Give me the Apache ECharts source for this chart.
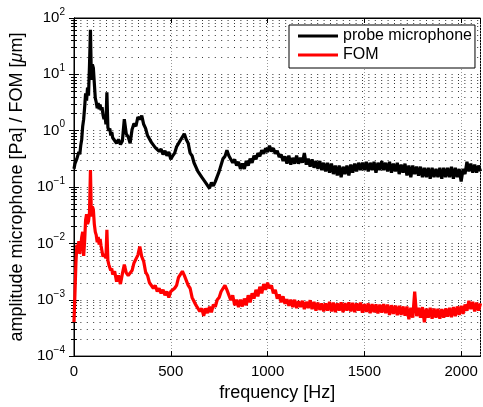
<!DOCTYPE html>
<html>
<head>
<meta charset="utf-8">
<script src="https://cdn.jsdelivr.net/npm/echarts@6/dist/echarts.min.js"></script>
<style>html,body{margin:0;padding:0;background:#fff}#c{width:483px;height:407px}</style>
</head>
<body>
<div id="c"></div>
<script>
const freqHz = [0,5,10,15,20,25,30,35,40,45,50,55,60,65,70,75,80,85,90,95,100,105,110,115,120,125,130,135,140,145,150,155,160,165,170,175,180,185,190,195,200,
210,220,230,240,250,260,270,280,290,300,
310,320,330,340,350,360,370,380,390,400,
410,420,430,440,450,460,470,480,490,500,
510,520,530,540,550,560,570,580,590,600,
610,620,630,640,650,660,670,680,690,700,
710,720,730,740,750,760,770,780,790,800,
810,820,830,840,850,860,870,880,890,900,
910,920,930,940,950,960,970,980,990,1000,
1010,1020,1030,1040,1050,1060,1070,1080,1090,1100,
1110,1120,1130,1140,1150,1160,1170,1180,1190,1200,
1210,1220,1230,1240,1250,1260,1270,1280,1290,1300,
1310,1320,1330,1340,1350,1360,1370,1380,1390,1400,
1410,1420,1430,1440,1450,1460,1470,1480,1490,1500,
1510,1520,1530,1540,1550,1560,1570,1580,1590,1600,
1610,1620,1630,1640,1650,1660,1670,1680,1690,1700,
1710,1720,1730,1740,1750,1760,1770,1780,1790,1800,
1810,1820,1830,1840,1850,1860,1870,1880,1890,1900,
1910,1920,1930,1940,1950,1960,1970,1980,1990,2000,
2010,2020,2030,2040,2050,2060,2070,2080,2090,2100];

const micPa = [0.21,0.26,0.24,0.32,0.3,0.42,0.38,0.55,0.7,1.2,1.6,2.6,4.6,3.4,5.8,4.2,14,62,8,15,13,7,3.8,3.2,2.5,3.1,2.4,2.9,2.3,2.6,1.9,1.6,1.9,1.3,4.8,1.15,1.0,1.1,0.82,0.95,0.75,
0.8,0.6,0.7,0.57,0.66,1.6,0.88,0.78,0.6,1.05,
1.35,1.2,1.75,1.6,1.85,1.3,1.1,0.82,0.8,0.62,
0.6,0.5,0.53,0.43,0.47,0.38,0.44,0.36,0.42,0.31,
0.36,0.4,0.52,0.5,0.68,0.72,0.88,0.7,0.6,0.4,
0.36,0.27,0.25,0.19,0.19,0.15,0.15,0.12,0.13,0.095,
0.12,0.105,0.125,0.13,0.19,0.2,0.32,0.35,0.45,0.36,
0.37,0.27,0.31,0.24,0.28,0.21,0.26,0.21,0.29,0.24,
0.32,0.27,0.36,0.31,0.4,0.35,0.45,0.39,0.49,0.42,
0.54,0.43,0.49,0.39,0.44,0.34,0.38,0.29,0.35,0.26,
0.36,0.25,0.33,0.26,0.36,0.26,0.33,0.27,0.4,0.25,
0.32,0.23,0.31,0.22,0.29,0.21,0.29,0.2,0.27,0.19,
0.27,0.18,0.26,0.17,0.24,0.16,0.24,0.15,0.23,0.17,
0.24,0.16,0.25,0.18,0.26,0.19,0.27,0.2,0.27,0.2,
0.28,0.19,0.27,0.2,0.28,0.18,0.27,0.2,0.29,0.2,
0.27,0.19,0.28,0.18,0.26,0.19,0.27,0.17,0.25,0.18,
0.26,0.16,0.24,0.15,0.24,0.17,0.23,0.16,0.23,0.15,
0.22,0.15,0.22,0.14,0.22,0.15,0.21,0.15,0.22,0.14,
0.22,0.15,0.22,0.15,0.23,0.14,0.22,0.15,0.21,0.125,
0.21,0.17,0.28,0.19,0.26,0.18,0.25,0.18,0.24,0.19];

const fomUm = [0.0004,0.0013,0.0045,0.0095,0.007,0.011,0.0065,0.009,0.013,0.016,0.006,0.011,0.026,0.033,0.022,0.025,0.035,0.2,0.03,0.045,0.04,0.022,0.016,0.014,0.0105,0.013,0.0095,0.012,0.009,0.0095,0.0058,0.0065,0.007,0.0055,0.0175,0.005,0.0042,0.0045,0.0033,0.0036,0.0028,
0.0032,0.0021,0.0027,0.0019,0.0029,0.0042,0.003,0.0027,0.0029,0.0033,
0.0045,0.0042,0.0062,0.0088,0.0058,0.0048,0.0031,0.0027,0.002,0.0021,
0.0016,0.0018,0.0014,0.0016,0.0013,0.0015,0.0012,0.0014,0.0011,0.0014,
0.0013,0.0016,0.0018,0.0025,0.0026,0.0032,0.0027,0.0025,0.0018,0.0016,
0.0011,0.0011,0.0008,0.00082,0.00062,0.0007,0.00052,0.0007,0.00058,0.00075,
0.0006,0.00082,0.00075,0.001,0.0011,0.0014,0.0015,0.0018,0.0015,0.0014,
0.00098,0.0012,0.0008,0.001,0.00074,0.001,0.00076,0.00105,0.0008,0.0012,
0.0009,0.0013,0.00105,0.0015,0.00115,0.0017,0.0013,0.0019,0.0015,0.002,
0.0016,0.0018,0.0013,0.0015,0.00105,0.00125,0.0009,0.00115,0.00085,0.00102,
0.00078,0.001,0.00074,0.001,0.00071,0.00094,0.00074,0.00096,0.00068,0.00092,
0.00071,0.00098,0.00068,0.00092,0.00064,0.00089,0.00066,0.00086,0.00062,0.00086,
0.00064,0.00092,0.00062,0.00089,0.0006,0.00086,0.00064,0.0009,0.0006,0.00087,
0.00064,0.0009,0.00062,0.00088,0.0006,0.00086,0.00064,0.00089,0.00059,0.00084,
0.00061,0.00086,0.00058,0.00084,0.0006,0.00083,0.00057,0.00082,0.00059,0.00084,
0.00058,0.00082,0.00054,0.0008,0.00056,0.00079,0.00053,0.00078,0.00054,0.00076,
0.00052,0.00076,0.00045,0.00072,0.00048,0.0014,0.00051,0.00072,0.00048,0.00074,
0.0004,0.0007,0.00048,0.00072,0.00046,0.0007,0.00048,0.00069,0.00046,0.00068,
0.00048,0.0007,0.0005,0.00072,0.00049,0.00074,0.00051,0.00076,0.00054,0.00078,
0.00056,0.00082,0.00064,0.00096,0.00068,0.00092,0.00062,0.00089,0.00064,0.00086];

const seriesNames = ['probe microphone', 'FOM'];
const xLabel = 'frequency [Hz]';

const FONT = '"Liberation Sans", Arial, Helvetica, sans-serif';
function pairs(xs, ys) { return xs.map((x, i) => [x, ys[i]]); }
function expLabel(v) {
  const e = Math.round(Math.log10(v));
  return '{b|10}{e|' + String(e).replace('-', '\u2212') + '}';
}
const dotted = { color: '#333', width: 1, type: [1, 5.4] };

const chart = echarts.init(document.getElementById('c'), null, { renderer: 'canvas' });
chart.setOption({
  animation: false,
  backgroundColor: '#fff',
  textStyle: { fontFamily: FONT },
  grid: { left: 73, right: 2.5, top: 18, bottom: 47, show: true, borderColor: '#000', borderWidth: 1, backgroundColor: 'transparent' },
  legend: {
    orient: 'vertical', left: 289, top: 25,
    padding: [3, 3, 5, 9], itemGap: 3,
    borderColor: '#000', borderWidth: 1, backgroundColor: '#fff',
    itemWidth: 40, itemHeight: 3, icon: 'rect',
    textStyle: { fontSize: 16, color: '#000', fontFamily: FONT },
    data: seriesNames
  },
  xAxis: [{
    type: 'value', min: 0, max: 2100, interval: 500,
    name: xLabel, nameLocation: 'middle', nameGap: 23,
    nameTextStyle: { fontSize: 18, color: '#000', fontFamily: FONT },
    axisLine: { show: true, lineStyle: { color: '#000', width: 1 } },
    axisTick: { show: true, inside: true, length: 5, lineStyle: { color: '#000' } },
    axisLabel: { fontSize: 15, color: '#000', margin: 8, showMaxLabel: false, fontFamily: FONT, formatter: v => String(v) },
    splitLine: { show: true, lineStyle: { color: '#999', width: 1, type: [1, 2] } }
  }, {
    type: 'value', min: 0, max: 2100, interval: 500, position: 'top',
    axisLine: { show: true, lineStyle: { color: '#000' } },
    axisTick: { show: true, inside: true, length: 5, lineStyle: { color: '#000' } },
    axisLabel: { show: false }, splitLine: { show: false }
  }],
  yAxis: [{
    type: 'log', logBase: 10, min: 1e-4, max: 100, splitNumber: 6,
    name: 'amplitude microphone [Pa] / FOM [{i|\u03bc}m]', nameLocation: 'middle', nameGap: 44,
    nameTextStyle: { fontSize: 18, color: '#000', fontFamily: FONT, rich: { i: { fontSize: 18, fontStyle: 'italic', fontFamily: FONT } } },
    axisLine: { show: true, lineStyle: { color: '#000', width: 1 } },
    axisTick: { show: true, inside: true, length: 5, lineStyle: { color: '#000' } },
    minorTick: { show: true, splitNumber: 9, length: 3, lineStyle: { color: '#000' } },
    axisLabel: {
      margin: 9, color: '#000', formatter: expLabel,
      rich: {
        b: { fontSize: 15, lineHeight: 22, verticalAlign: 'middle', fontFamily: FONT, color: '#000' },
        e: { fontSize: 10, lineHeight: 10, verticalAlign: 'top', fontFamily: FONT, color: '#000' }
      }
    },
    splitLine: { show: true, lineStyle: dotted },
    minorSplitLine: { show: true, lineStyle: dotted }
  }, {
    type: 'log', logBase: 10, min: 1e-4, max: 100, splitNumber: 6, position: 'right',
    axisLine: { show: true, lineStyle: { color: '#000' } },
    axisTick: { show: true, inside: true, length: 5, lineStyle: { color: '#000' } },
    minorTick: { show: true, splitNumber: 9, length: 3, lineStyle: { color: '#000' } },
    axisLabel: { show: false }, splitLine: { show: false }, minorSplitLine: { show: false }
  }],
  series: [{
    name: seriesNames[0], type: 'line', xAxisIndex: 0, yAxisIndex: 0,
    data: pairs(freqHz, micPa), showSymbol: false, symbol: 'none',
    lineStyle: { color: '#000', width: 3.2 }, itemStyle: { color: '#000' }, z: 3
  }, {
    name: seriesNames[1], type: 'line', xAxisIndex: 0, yAxisIndex: 0,
    data: pairs(freqHz, fomUm), showSymbol: false, symbol: 'none',
    lineStyle: { color: '#ff0000', width: 3.2 }, itemStyle: { color: '#ff0000' }, z: 3
  }]
});
</script>
</body>
</html>
